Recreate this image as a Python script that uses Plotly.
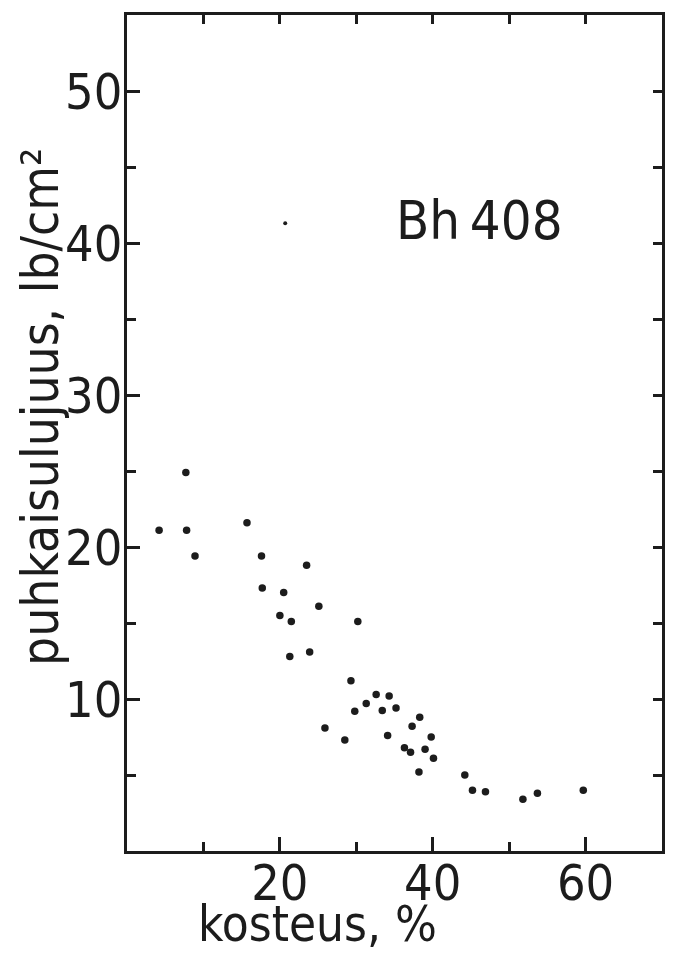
import plotly.graph_objects as go

# moisture content (kosteus, %)
kosteus = [7.7, 4.2, 7.8, 8.9, 15.7, 17.6, 23.5, 17.7, 20.5, 25.1, 20.0, 21.5,
           30.2, 21.3, 23.9, 29.3, 25.9, 28.5, 29.8, 31.3, 32.6, 34.3, 33.4,
           35.2, 34.1, 38.3, 37.3, 39.8, 36.3, 37.1, 39.0, 40.1, 38.2, 44.2,
           45.2, 46.9, 51.8, 53.7, 59.7]
# puncture strength (puhkaisulujuus, lb/cm2)
lujuus = [24.9, 21.1, 21.1, 19.4, 21.6, 19.4, 18.8, 17.3, 17.0, 16.1, 15.5, 15.1,
          15.1, 12.8, 13.1, 11.2, 8.1, 7.3, 9.2, 9.7, 10.3, 10.2, 9.25,
          9.4, 7.6, 8.8, 8.2, 7.5, 6.8, 6.5, 6.7, 6.1, 5.2, 5.0,
          4.0, 3.9, 3.4, 3.8, 4.0]
# single small mark
extra_x = [20.7]
extra_y = [41.3]

x_range = [0, 70]
y_range = [0, 55]
x_ticks = [20, 40, 60]
x_minor = [10, 30, 50]
x_top_ticks = [10, 20, 30, 40, 50, 60]
y_ticks = [10, 20, 30, 40, 50]
y_minor = [5, 15, 25, 35, 45]
y_right_ticks = [5, 10, 15, 20, 25, 30, 35, 40, 45, 50]
label_text = "Bh\u2009408"

ink = "#1c1c1c"
cond = "DejaVu Sans Condensed, Liberation Sans Narrow, DejaVu Sans"

# page has an 8px body margin; figure sized so the plot box lands on the
# reference box (page x 127..664, y 12..851)
PAGE = 8
W, H = 661, 948
L, R, T, B = 119, 5, 4, 105
pw, ph = W - L - R, H - T - B
px0, py1 = PAGE + L, PAGE + H - B  # page coords of plot left / bottom


def xp(page_x):
    return (page_x - px0) / pw


def yp(page_y):
    return (py1 - page_y) / ph


fig = go.Figure()
fig.add_trace(go.Scatter(x=kosteus, y=lujuus, mode="markers",
                         marker=dict(size=7.5, color=ink), showlegend=False))
fig.add_trace(go.Scatter(x=extra_x, y=extra_y, mode="markers",
                         marker=dict(size=4, color=ink), showlegend=False))
# invisible copy on the mirrored (top/right) axes so they are drawn
fig.add_trace(go.Scatter(x=kosteus, y=lujuus, xaxis="x2", yaxis="y2",
                         mode="markers", marker=dict(size=1, opacity=0),
                         hoverinfo="skip", showlegend=False))

common = dict(showgrid=False, zeroline=False, ticks="inside", tickcolor=ink,
              tickwidth=2.5)
tickfont = dict(family=cond, size=50, color=ink)

fig.update_layout(
    xaxis=dict(range=x_range, tickvals=x_ticks, ticklen=14, showline=True,
               linecolor=ink, linewidth=2.5, mirror=True, tickfont=tickfont,
               ticklabelstandoff=-14,
               minor=dict(tickvals=x_minor, ticks="inside", ticklen=9,
                          tickwidth=2.5, tickcolor=ink),
               **common),
    yaxis=dict(range=y_range, tickvals=y_ticks, ticklen=13, showline=True,
               linecolor=ink, linewidth=2.5, mirror=True, tickfont=tickfont,
               ticklabelstandoff=-8,
               minor=dict(tickvals=y_minor, ticks="inside",
                          ticklen=9, tickwidth=2.5, tickcolor=ink),
               **common),
    xaxis2=dict(range=x_range, overlaying="x", side="top", anchor="y",
                tickvals=x_top_ticks, ticklen=9, showticklabels=False,
                showline=False, **common),
    yaxis2=dict(range=y_range, overlaying="y", side="right", anchor="x",
                tickvals=y_right_ticks, ticklen=9, showticklabels=False,
                showline=False, **common),
)

fig.add_annotation(x=46.1, y=41.5, text=label_text, showarrow=False,
                   font=dict(family=cond, size=54, color=ink))
fig.add_annotation(xref="paper", yref="paper", x=xp(40), y=yp(405),
                   text="puhkaisulujuus, lb/cm²", textangle=-90,
                   showarrow=False, xanchor="center", yanchor="middle",
                   font=dict(family=cond, size=51, color=ink))
fig.add_annotation(xref="paper", yref="paper", x=xp(318), y=yp(925),
                   text="kosteus, %", showarrow=False,
                   xanchor="center", yanchor="middle",
                   font=dict(family=cond, size=49, color=ink))

fig.update_layout(width=W, height=H, paper_bgcolor="white",
                  plot_bgcolor="white",
                  margin=dict(l=L, r=R, t=T, b=B))
fig.write_html("out.html")
